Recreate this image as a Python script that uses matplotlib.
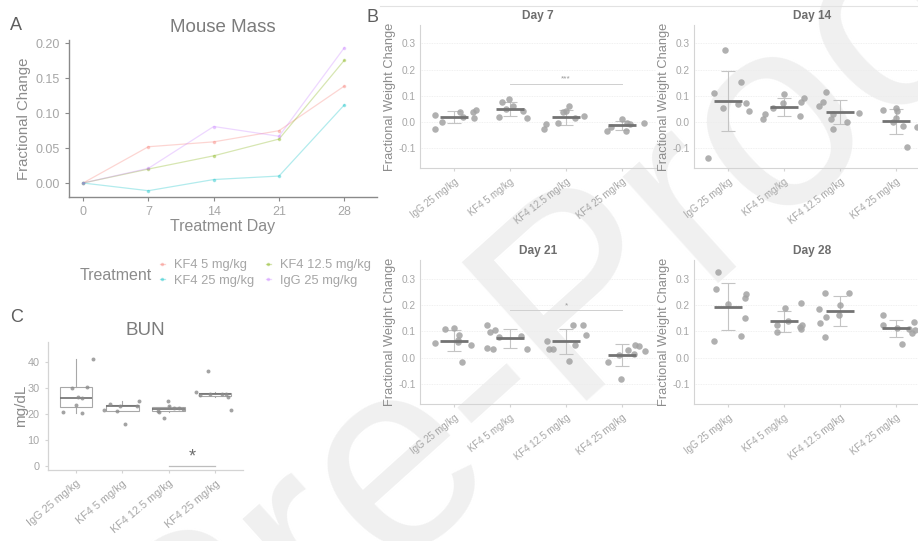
"""Mouse mass, fractional weight change by day, and BUN panels."""

import matplotlib

matplotlib.use("Agg")
import matplotlib.pyplot as plt
import numpy as np
from matplotlib.lines import Line2D

plt.rcParams["font.family"] = ["Liberation Sans", "DejaVu Sans"]

# ---- panel A: mean fractional change per treatment day ----
DAYS = [0, 7, 14, 21, 28]
MASS_KF4_5 = [0.0, 0.052, 0.059, 0.075, 0.139]
MASS_KF4_12 = [0.0, 0.020, 0.039, 0.063, 0.176]
MASS_KF4_25 = [0.0, -0.011, 0.005, 0.010, 0.112]
MASS_IGG = [0.0, 0.021, 0.081, 0.067, 0.194]
LEGEND_LABELS = ["KF4 5 mg/kg", "KF4 12.5 mg/kg", "KF4 25 mg/kg", "IgG 25 mg/kg"]

# ---- panel B: per-animal fractional weight change ----
GROUPS = ["IgG 25 mg/kg", "KF4 5 mg/kg", "KF4 12.5 mg/kg", "KF4 25 mg/kg"]

DAY7_VALUES = [
    [0.028, -0.027, -0.001, 0.038, 0.020, 0.016, 0.037, 0.047],
    [0.019, 0.077, 0.089, 0.048, 0.061, 0.043, 0.017],
    [-0.025, -0.009, -0.003, 0.037, 0.043, 0.061, 0.017, 0.025],
    [-0.034, -0.020, 0.013, -0.003, -0.034, -0.009, -0.003],
]
DAY7_JITTER = [
    [-0.34, -0.33, -0.21, 0.11, 0.17, 0.36, 0.35, 0.40],
    [-0.20, -0.14, -0.02, -0.07, 0.06, 0.23, 0.30],
    [-0.40, -0.36, -0.14, -0.06, -0.01, 0.05, 0.15, 0.32],
    [-0.27, -0.20, -0.01, 0.08, 0.07, 0.14, 0.39],
]
DAY14_VALUES = [
    [-0.136, 0.109, 0.054, 0.274, 0.068, 0.151, 0.073, 0.042],
    [0.011, 0.029, 0.054, 0.106, 0.073, 0.023, 0.075, 0.090],
    [0.062, 0.077, 0.115, 0.029, 0.010, -0.025, 0.001, 0.035],
    [0.046, 0.052, 0.043, 0.014, -0.001, -0.014, -0.095, -0.018],
]
DAY14_JITTER = [
    [-0.35, -0.25, -0.09, -0.05, 0.18, 0.23, 0.33, 0.37],
    [-0.38, -0.34, -0.19, 0.00, -0.01, 0.28, 0.30, 0.36],
    [-0.37, -0.31, -0.25, -0.13, -0.17, -0.12, 0.12, 0.34],
    [-0.24, 0.00, 0.02, 0.00, -0.05, 0.12, 0.19, 0.36],
]
DAY21_VALUES = [
    [0.056, 0.108, 0.114, 0.087, 0.067, 0.058, -0.016, 0.048],
    [0.125, 0.096, 0.106, 0.077, 0.038, 0.032, 0.081, 0.033],
    [0.062, 0.032, 0.035, -0.014, 0.125, 0.048, 0.125, 0.085],
    [-0.015, 0.011, -0.081, 0.028, 0.049, 0.043, 0.015, 0.024],
]
DAY21_JITTER = [
    [-0.34, -0.15, 0.00, 0.09, 0.07, 0.08, 0.14, 0.31],
    [-0.40, -0.36, -0.26, -0.19, -0.40, -0.30, 0.20, 0.31],
    [-0.34, -0.30, -0.24, 0.05, 0.12, 0.16, 0.30, 0.36],
    [-0.26, -0.05, -0.02, 0.10, 0.23, 0.29, 0.20, 0.40],
]
DAY28_VALUES = [
    [0.065, 0.260, 0.323, 0.202, 0.084, 0.227, 0.240, 0.151],
    [0.125, 0.098, 0.188, 0.141, 0.208, 0.115, 0.125, 0.108],
    [0.183, 0.132, 0.080, 0.247, 0.156, 0.160, 0.199, 0.247],
    [0.163, 0.124, 0.113, 0.051, 0.110, 0.092, 0.134, 0.106],
]
DAY28_JITTER = [
    [-0.24, -0.21, -0.17, 0.01, 0.24, 0.30, 0.33, 0.31],
    [-0.13, -0.12, 0.02, 0.07, 0.30, 0.28, 0.33, 0.31],
    [-0.37, -0.36, -0.27, -0.27, -0.25, -0.02, 0.00, 0.15],
    [-0.23, -0.24, 0.02, 0.11, 0.23, 0.28, 0.32, 0.33],
]
# (group a, group b, height, label) per facet
DAY7_SIG = (2, 4, 0.147, "***")
DAY21_SIG = (2, 4, 0.180, "*")

# ---- panel C: BUN ----
BUN_VALUES = [
    [20.9, 30.1, 23.5, 26.4, 26.0, 20.5, 30.6, 41.0],
    [21.5, 23.8, 21.0, 23.0, 16.0, 23.3, 25.0],
    [21.3, 20.8, 18.6, 25.0, 23.3, 22.2, 22.5, 21.9],
    [28.6, 27.3, 36.5, 27.6, 27.8, 27.7, 26.5, 21.4],
]
BUN_JITTER = [
    [-0.27, -0.09, 0.00, 0.05, 0.13, 0.13, 0.24, 0.37],
    [-0.40, -0.27, -0.11, -0.06, 0.05, 0.32, 0.37],
    [-0.24, -0.22, -0.11, -0.01, 0.00, 0.12, 0.22, 0.31],
    [-0.41, -0.32, -0.16, -0.11, 0.15, 0.24, 0.27, 0.35],
]
BUN_SIG = (3, 4, 0.0, "*")

HUE = {"KF4 5": "#F8766D", "KF4 12.5": "#7CAE00", "KF4 25": "#00BFC4", "IgG": "#C77CFF"}
TITLE_C = "#7c7c7c"
LABEL_C = "#8c8c8c"
TICK_C = "#a6a6a6"
SPINE_C = "#d4d4d4"


def _panel_mass(fig):
    ax = fig.add_axes([0.0752, 0.6359, 0.3355, 0.2902])
    ax.set_facecolor("none")
    series = [
        (MASS_KF4_5, HUE["KF4 5"]),
        (MASS_KF4_12, HUE["KF4 12.5"]),
        (MASS_KF4_25, HUE["KF4 25"]),
        (MASS_IGG, HUE["IgG"]),
    ]
    handles = []
    for (vals, color), label in zip(series, LEGEND_LABELS):
        (ln,) = ax.plot(DAYS, vals, color=color, alpha=0.3, lw=0.9, marker="o", ms=1.6, label=label)
        handles.append(ln)
    ax.set_xlim(-1.5, 31.5)
    ax.set_ylim(-0.02, 0.205)
    ax.set_xticks(DAYS)
    ax.set_yticks([0.0, 0.05, 0.10, 0.15, 0.20])
    ax.set_yticklabels(["0.00", "0.05", "0.10", "0.15", "0.20"])
    for side in ("top", "right"):
        ax.spines[side].set_visible(False)
    for side in ("left", "bottom"):
        ax.spines[side].set_color("#8a8a8a")
        ax.spines[side].set_linewidth(1.0)
    ax.tick_params(colors="#8a8a8a", labelcolor=TICK_C, labelsize=9, length=3)
    ax.set_title("Mouse Mass", color=TITLE_C, fontsize=13.5, pad=6)
    ax.set_xlabel("Treatment Day", color=LABEL_C, fontsize=11.5, labelpad=1)
    ax.set_ylabel("Fractional Change", color=LABEL_C, fontsize=10.8, labelpad=3)

    order = [handles[0], handles[2], handles[1], handles[3]]
    leg = fig.legend(
        order, [h.get_label() for h in order], ncol=2, frameon=False,
        loc="center left", bbox_to_anchor=(0.164, 1 - 273 / 541),
        handlelength=0.4, handletextpad=0.7, columnspacing=0.9,
        labelspacing=0.3, fontsize=9.3, borderpad=0.2,
    )
    for t in leg.get_texts():
        t.set_color(TICK_C)
    fig.text(0.087, 1 - 275 / 541, "Treatment", color=LABEL_C, fontsize=11.5, va="center")


def _panel_day(fig, rect, title, values, jitter, sig=None):
    ax = fig.add_axes(rect)
    ax.set_facecolor("none")
    xs = np.arange(1, len(GROUPS) + 1)
    for x, vals, jit in zip(xs, values, jitter):
        vals = np.asarray(vals)
        mean = vals.mean()
        sd = vals.std(ddof=1)
        ax.errorbar(x, mean, yerr=sd, color="#c4c4c4", lw=0.8, capsize=5.2, capthick=0.8, zorder=2)
        ax.scatter(x + np.asarray(jit), vals, s=22, color="#a3a3a3", alpha=0.85, lw=0, zorder=3)
        ax.hlines(mean, x - 0.25, x + 0.25, color="#737373", lw=2.0, zorder=4)
    if sig is not None:
        a, b, h, label = sig
        ax.plot([a, b], [h, h], color="#cfcfcf", lw=0.7)
        ax.text((a + b) / 2, h + 0.003, label, ha="center", va="bottom", color="#9a9a9a", fontsize=6)
    ax.set_xlim(0.4, 4.6)
    ax.set_ylim(-0.175, 0.37)
    ax.set_yticks([-0.1, 0.0, 0.1, 0.2, 0.3])
    ax.set_yticklabels(["-0.1", "0.0", "0.1", "0.2", "0.3"])
    ax.set_xticks(xs)
    ax.set_xticklabels(GROUPS, rotation=38, ha="right", rotation_mode="anchor")
    ax.grid(axis="y", color="#ececec", lw=0.6, ls=(0, (1, 1)))
    ax.set_axisbelow(True)
    for side in ("top", "right"):
        ax.spines[side].set_visible(False)
    for side in ("left", "bottom"):
        ax.spines[side].set_color(SPINE_C)
        ax.spines[side].set_linewidth(0.8)
    ax.tick_params(colors=SPINE_C, labelcolor=TICK_C, labelsize=6.9, length=2.5)
    ax.tick_params(axis="y", length=0, pad=3, labelsize=7.3)
    ax.set_title(title, color="#6e6e6e", fontsize=8.6, fontweight="bold", pad=4)
    ax.set_ylabel("Fractional Weight Change", color=LABEL_C, fontsize=9.3, labelpad=2)
    return ax


def _panel_bun(fig):
    ax = fig.add_axes([0.0523, 0.1312, 0.2124, 0.2366])
    ax.set_facecolor("none")
    xs = np.arange(1, len(GROUPS) + 1)
    ax.boxplot(
        BUN_VALUES, positions=xs, widths=0.7, whis=1.5, showfliers=False,
        showcaps=False, patch_artist=True,
        boxprops=dict(facecolor="white", edgecolor="#a8a8a8", lw=0.8),
        medianprops=dict(color="#707070", lw=1.2),
        whiskerprops=dict(color="#a8a8a8", lw=0.8),
    )
    for x, vals, jit in zip(xs, BUN_VALUES, BUN_JITTER):
        ax.scatter(x + np.asarray(jit), vals, s=8, color="#8c8c8c", alpha=0.8, lw=0, zorder=3)
    a, b, h, label = BUN_SIG
    ax.plot([a, b], [h, h], color="#bdbdbd", lw=0.9)
    ax.text((a + b) / 2, h + 0.3, label, ha="center", va="bottom", color="#6e6e6e", fontsize=13)
    ax.set_xlim(0.4, 4.6)
    ax.set_ylim(-1.5, 47.7)
    ax.set_yticks([0, 10, 20, 30, 40])
    ax.set_xticks(xs)
    ax.set_xticklabels(GROUPS, rotation=40, ha="right", rotation_mode="anchor")
    for side in ("top", "right"):
        ax.spines[side].set_visible(False)
    for side in ("left", "bottom"):
        ax.spines[side].set_color(SPINE_C)
        ax.spines[side].set_linewidth(0.9)
    ax.tick_params(colors=SPINE_C, labelcolor=TICK_C, labelsize=7.8, length=2.5)
    ax.set_title("BUN", color=TITLE_C, fontsize=13.5, pad=5)
    ax.set_ylabel("mg/dL", color=LABEL_C, fontsize=11, labelpad=0)


def main():
    fig = plt.figure(figsize=(9.18, 5.41), dpi=100)
    fig.text(0.62, 0.44, "Pre-Proof", fontsize=195, color="#f0f0f0",
             rotation=42, ha="center", va="center", zorder=-1)
    fig.add_artist(Line2D([380 / 918, 1.0], [1 - 6 / 541, 1 - 6 / 541], color="#e2e2e2", lw=0.8))

    _panel_mass(fig)
    _panel_day(fig, [0.4575, 0.6895, 0.2571, 0.2643], "Day 7", DAY7_VALUES, DAY7_JITTER, DAY7_SIG)
    _panel_day(fig, [0.7560, 0.6895, 0.2571, 0.2643], "Day 14", DAY14_VALUES, DAY14_JITTER)
    _panel_day(fig, [0.4575, 0.2532, 0.2571, 0.2662], "Day 21", DAY21_VALUES, DAY21_JITTER, DAY21_SIG)
    _panel_day(fig, [0.7560, 0.2532, 0.2571, 0.2662], "Day 28", DAY28_VALUES, DAY28_JITTER)
    _panel_bun(fig)

    letter = dict(color="#5e5e5e", fontsize=13, va="center")
    fig.text(10 / 918, 1 - 25 / 541, "A", **letter)
    fig.text(367 / 918, 1 - 18 / 541, "B", **letter)
    fig.text(10 / 918, 1 - 318 / 541, "C", **letter)

    fig.savefig("out.png", dpi=100)
    plt.close(fig)


if __name__ == "__main__":
    main()
